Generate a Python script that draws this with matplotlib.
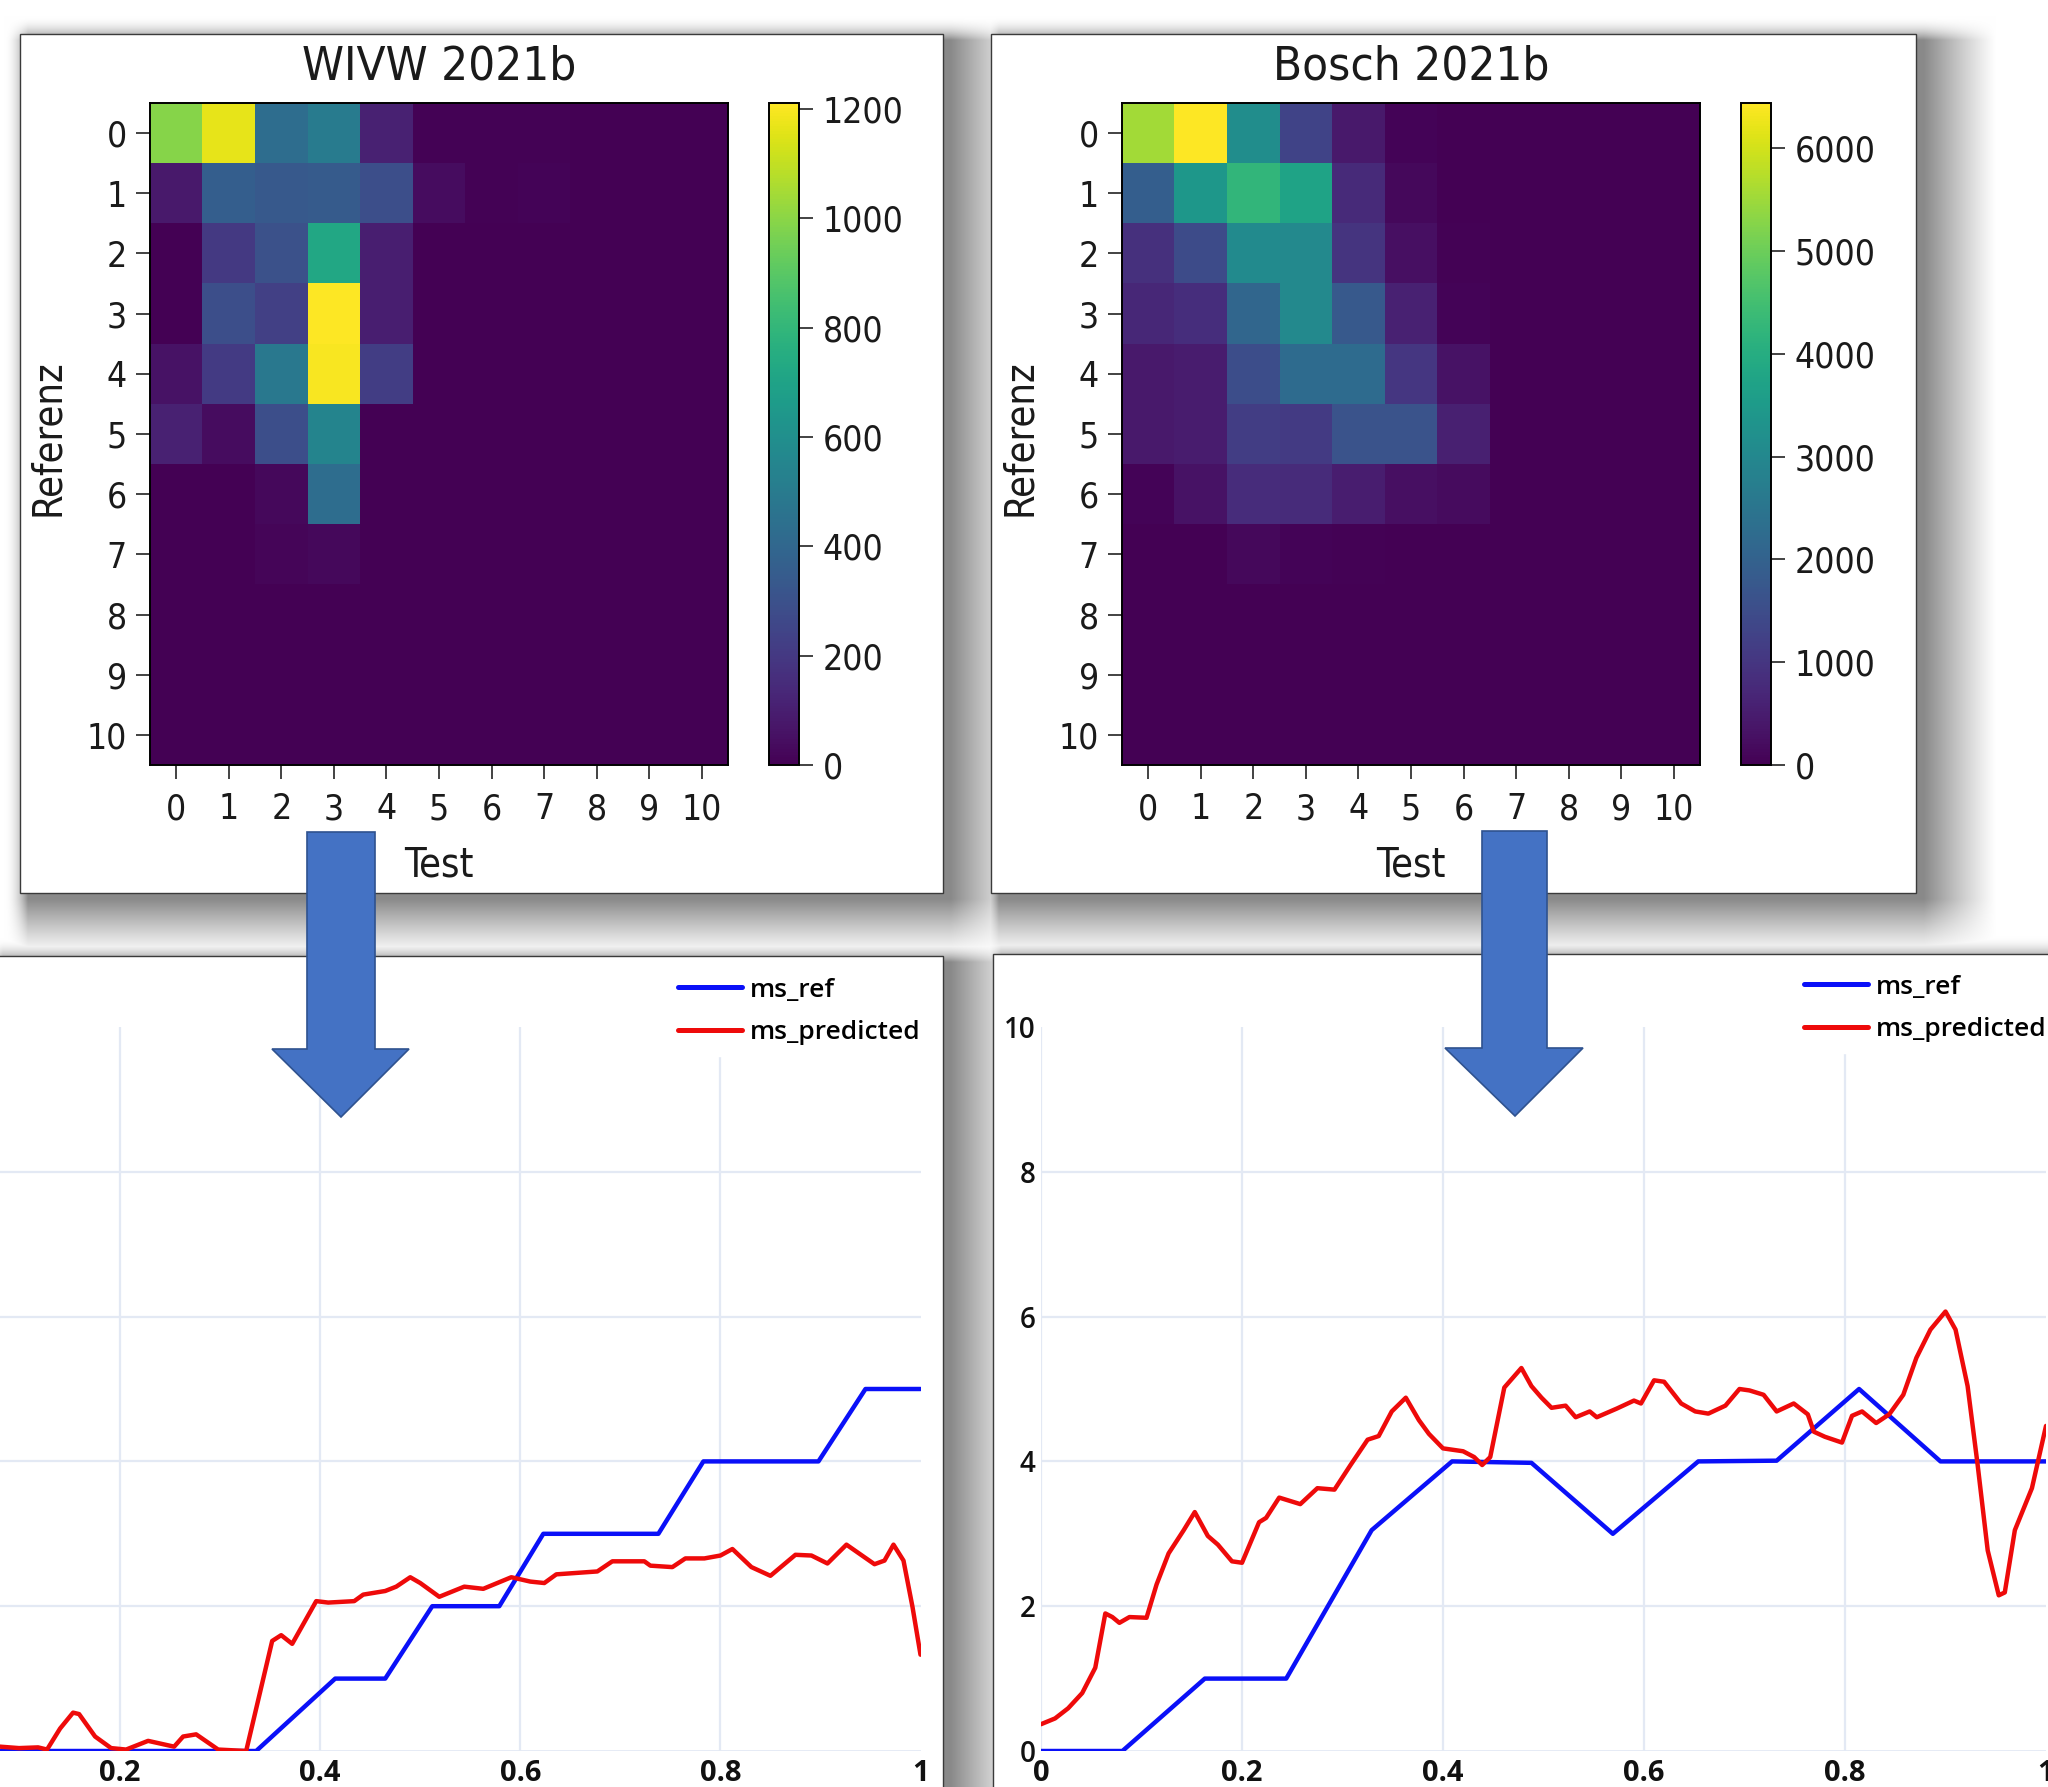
import matplotlib
matplotlib.use('Agg')
import matplotlib.pyplot as plt
from matplotlib.patches import Rectangle, Polygon
import numpy as np

# ---------------- data ----------------
heat_ticks = [0, 1, 2, 3, 4, 5, 6, 7, 8, 9, 10]
heat_ticklabels = ['0', '1', '2', '3', '4', '5', '6', '7', '8', '9', '10']

wivw_title = 'WIVW 2021b'
wivw_matrix = [
    [990, 1165, 435, 505, 110, 5, 5, 5, 3, 3, 3],
    [85, 360, 340, 350, 290, 40, 5, 12, 3, 0, 0],
    [2, 200, 300, 727, 100, 0, 0, 0, 0, 0, 0],
    [4, 290, 230, 1211, 100, 0, 0, 0, 0, 0, 0],
    [60, 205, 485, 1200, 220, 0, 0, 0, 0, 0, 0],
    [110, 40, 290, 545, 0, 0, 0, 0, 0, 0, 0],
    [0, 0, 25, 435, 0, 0, 0, 0, 0, 0, 0],
    [0, 0, 15, 25, 0, 0, 0, 0, 0, 0, 0],
    [0, 0, 0, 0, 0, 0, 0, 0, 0, 0, 0],
    [0, 0, 0, 0, 0, 0, 0, 0, 0, 0, 0],
    [0, 0, 0, 0, 0, 0, 0, 0, 0, 0, 0],
]
wivw_cticks = [0, 200, 400, 600, 800, 1000, 1200]

bosch_title = 'Bosch 2021b'
bosch_matrix = [
    [5540, 6440, 3155, 1290, 450, 60, 20, 10, 5, 5, 5],
    [1930, 3415, 4250, 3735, 775, 130, 20, 10, 5, 0, 0],
    [900, 1480, 3090, 3030, 970, 260, 30, 10, 0, 0, 0],
    [710, 840, 2125, 3030, 1800, 580, 60, 10, 0, 0, 0],
    [450, 500, 1515, 2255, 2255, 1030, 320, 10, 0, 0, 0],
    [450, 480, 1160, 1100, 1640, 1640, 560, 10, 0, 0, 0],
    [60, 320, 820, 800, 520, 260, 200, 5, 0, 0, 0],
    [0, 10, 130, 70, 30, 20, 10, 0, 0, 0, 0],
    [0, 0, 0, 0, 0, 0, 0, 0, 0, 0, 0],
    [0, 0, 0, 0, 0, 0, 0, 0, 0, 0, 0],
    [0, 0, 0, 0, 0, 0, 0, 0, 0, 0, 0],
]
bosch_cticks = [0, 1000, 2000, 3000, 4000, 5000, 6000]

heat_xlabel = 'Test'
heat_ylabel = 'Referenz'

line_xticks = [0, 0.2, 0.4, 0.6, 0.8, 1]
line_xticklabels = ['0', '0.2', '0.4', '0.6', '0.8', '1']
line_yticks = [0, 2, 4, 6, 8, 10]
line_yticklabels = ['0', '2', '4', '6', '8', '10']
series_names = ['ms_ref', 'ms_predicted']

wivw_ref_x = [0, 0.336, 0.415, 0.465, 0.512, 0.579, 0.623, 0.738, 0.783, 0.898, 0.945, 1.0]
wivw_ref_y = [0, 0, 1, 1, 2, 2, 3, 3, 4, 4, 5, 5]

wivw_pred_x = [0.000, 0.040, 0.080, 0.099, 0.118, 0.127, 0.140, 0.153, 0.159, 0.175,
               0.191, 0.206, 0.228, 0.254, 0.263, 0.276, 0.298, 0.326, 0.352, 0.361,
               0.372, 0.396, 0.408, 0.434, 0.443, 0.465, 0.476, 0.490, 0.500, 0.519,
               0.544, 0.563, 0.591, 0.610, 0.624, 0.636, 0.677, 0.692, 0.724, 0.730,
               0.752, 0.765, 0.784, 0.800, 0.812, 0.831, 0.850, 0.875, 0.891, 0.907,
               0.926, 0.954, 0.964, 0.973, 0.983, 0.992, 1.000]
wivw_pred_y = [0.05, 0.08, 0.06, 0.04, 0.05, 0.02, 0.31, 0.53, 0.51, 0.20,
               0.04, 0.02, 0.14, 0.06, 0.20, 0.23, 0.02, 0.00, 1.52, 1.60,
               1.48, 2.07, 2.05, 2.07, 2.16, 2.21, 2.27, 2.40, 2.32, 2.13,
               2.27, 2.24, 2.40, 2.34, 2.32, 2.44, 2.48, 2.62, 2.62, 2.56,
               2.54, 2.66, 2.66, 2.70, 2.79, 2.54, 2.42, 2.71, 2.70, 2.59,
               2.85, 2.58, 2.63, 2.85, 2.63, 1.99, 1.33]

bosch_ref_x = [0, 0.081, 0.163, 0.244, 0.329, 0.409, 0.488, 0.569, 0.654, 0.732, 0.814, 0.895, 1.0]
bosch_ref_y = [0, 0, 1, 1, 3.05, 4, 3.98, 3, 4, 4.01, 5, 4, 4]

bosch_pred_x = [0.000, 0.014, 0.027, 0.041, 0.054, 0.064, 0.071, 0.078, 0.088, 0.105,
                0.115, 0.127, 0.142, 0.153, 0.166, 0.176, 0.190, 0.200, 0.217, 0.224,
                0.237, 0.258, 0.275, 0.292, 0.308, 0.325, 0.336, 0.349, 0.363, 0.376,
                0.386, 0.400, 0.420, 0.431, 0.439, 0.447, 0.461, 0.478, 0.488, 0.498,
                0.508, 0.522, 0.532, 0.546, 0.553, 0.573, 0.590, 0.597, 0.610, 0.620,
                0.637, 0.651, 0.664, 0.681, 0.695, 0.705, 0.719, 0.732, 0.749, 0.763,
                0.769, 0.780, 0.797, 0.807, 0.817, 0.831, 0.844, 0.858, 0.871, 0.885,
                0.900, 0.910, 0.922, 0.932, 0.942, 0.953, 0.959, 0.969, 0.986, 1.000]
bosch_pred_y = [0.37, 0.45, 0.59, 0.80, 1.15, 1.90, 1.85, 1.77, 1.85, 1.84,
                2.30, 2.73, 3.05, 3.30, 2.97, 2.85, 2.62, 2.60, 3.16, 3.22,
                3.50, 3.41, 3.63, 3.61, 3.95, 4.30, 4.35, 4.69, 4.88, 4.57,
                4.38, 4.18, 4.14, 4.06, 3.95, 4.06, 5.02, 5.29, 5.04, 4.88,
                4.74, 4.77, 4.61, 4.69, 4.61, 4.73, 4.84, 4.80, 5.12, 5.10,
                4.80, 4.69, 4.66, 4.77, 5.00, 4.98, 4.92, 4.69, 4.80, 4.65,
                4.41, 4.34, 4.26, 4.63, 4.69, 4.53, 4.65, 4.92, 5.43, 5.82,
                6.07, 5.82, 5.04, 3.95, 2.77, 2.15, 2.19, 3.05, 3.63, 4.49]

# ---------------- layout / style ----------------
W, H = 2048, 1787
DPI = 100
fig = plt.figure(figsize=(W / DPI, H / DPI), dpi=DPI)
fig.patch.set_facecolor('white')


def frect(x0, y0, x1, y1):
    return [x0 / W, 1 - y1 / H, (x1 - x0) / W, (y1 - y0) / H]


HEAT_FONT = dict(family='DejaVu Sans', stretch='condensed')
GRID_C = '#e3e9f4'
BLUE = '#0a10f8'
RED = '#ee0a0a'
ARROW_FC = '#4472c4'
ARROW_EC = '#2f528f'

# background: panels + soft drop shadows
bg = fig.add_axes([0, 0, 1, 1], zorder=0)
bg.axis('off')

panels = [
    (20, 34, 943, 893),
    (991, 34, 1916, 893),
    (-5, 956, 943, 1800),
    (993, 954, 2070, 1800),
]


def ramp1d(n, a0, a1, off, blur_lt, blur_rb):
    c = np.arange(n) + 0.5
    s0, s1 = a0 + off, a1 + off
    f = np.ones(n)
    lo = c < s0
    hi = c > s1
    f[lo] = np.clip(1 - (s0 - c[lo]) / blur_lt, 0, 1) ** 2
    f[hi] = np.clip(1 - (c[hi] - s1) / blur_rb, 0, 1) ** 1.1
    return f


dark = np.zeros((H, W))
for (x0, y0, x1, y1) in panels:
    fx = ramp1d(W, x0, x1, 8, 24, 72)
    fy = ramp1d(H, y0, y1, 6, 24, 56)
    dark = np.maximum(dark, 0.46 * np.outer(fy, fx))
g = 1 - dark
bg.imshow(np.dstack([g, g, g]), extent=(0, W, H, 0), interpolation='bilinear',
          zorder=0, aspect='auto')
bg.set_xlim(0, W)
bg.set_ylim(H, 0)

for (x0, y0, x1, y1) in panels:
    bg.add_patch(Rectangle((x0, y0), x1 - x0, y1 - y0, facecolor='white',
                           edgecolor='#3a3a3a', lw=1.0, zorder=1))


# ---------------- heatmaps ----------------
def heatmap(ax_px, cax_px, matrix, title, cticks):
    ax = fig.add_axes(frect(*ax_px), zorder=2)
    im = ax.imshow(np.array(matrix, dtype=float), cmap='viridis', aspect='auto',
                   interpolation='nearest')
    ax.set_xticks(heat_ticks)
    ax.set_xticklabels(heat_ticklabels, **HEAT_FONT)
    ax.set_yticks(heat_ticks)
    ax.set_yticklabels(heat_ticklabels, **HEAT_FONT)
    ax.tick_params(axis='x', length=10, width=1.2, labelsize=25.5, pad=9.5,
                   color='#222222', labelcolor='#1a1a1a')
    ax.tick_params(axis='y', length=10, width=1.2, labelsize=25.5, pad=6.5,
                   color='#222222', labelcolor='#1a1a1a')
    for s in ax.spines.values():
        s.set_linewidth(1.4)
    ax.set_title(title, fontsize=34, pad=17, color='#1a1a1a', **HEAT_FONT)
    ax.set_xlabel(heat_xlabel, fontsize=28.5, color='#1a1a1a', **HEAT_FONT)
    ax.set_ylabel(heat_ylabel, fontsize=28.5, color='#1a1a1a', **HEAT_FONT)
    ax.xaxis.set_label_coords(0.5, -0.121)
    ax.yaxis.label.set_va('center')
    ax.yaxis.set_label_coords(-0.177, 0.495)

    cax = fig.add_axes(frect(*cax_px), zorder=2)
    cb = fig.colorbar(im, cax=cax, ticks=cticks)
    cb.outline.set_linewidth(1.4)
    cax.tick_params(length=10, width=1.2, labelsize=25.5, pad=7, color='#222222',
                    labelcolor='#1a1a1a')
    for lab in cax.get_yticklabels():
        lab.set_family(HEAT_FONT['family'])
        lab.set_stretch(HEAT_FONT['stretch'])
    return ax


heatmap((150, 103, 728, 765), (769, 103, 799, 765), wivw_matrix, wivw_title, wivw_cticks)
heatmap((1122, 103, 1700, 765), (1741, 103, 1771, 765), bosch_matrix, bosch_title, bosch_cticks)


# ---------------- line charts ----------------
def linechart(x0px, x1px, ref_x, ref_y, pred_x, pred_y, leg_left, leg_top, show_y):
    ax = fig.add_axes(frect(x0px, 1027, x1px, 1751), zorder=1)
    ax.set_facecolor('none')
    ax.set_xlim(0, 1)
    ax.set_ylim(0, 10)
    for s in ax.spines.values():
        s.set_visible(False)
    for t in line_xticks[:-1]:
        ax.axvline(t, color=GRID_C, lw=1.6, zorder=0)
    for t in line_yticks[:-1]:
        ax.axhline(t, color=GRID_C, lw=2.0 if t == 0 else 1.6, zorder=0)
    l1, = ax.plot(ref_x, ref_y, color=BLUE, lw=3.2, solid_joinstyle='round',
                  solid_capstyle='round', zorder=3, label=series_names[0])
    l2, = ax.plot(pred_x, pred_y, color=RED, lw=3.2, solid_joinstyle='round',
                  solid_capstyle='round', zorder=3, label=series_names[1])
    ax.set_xticks(line_xticks)
    xl = list(line_xticklabels) if show_y else [''] + list(line_xticklabels[1:])
    ax.set_xticklabels(xl, fontsize=21, color='#111111', family='Open Sans',
                       weight='bold')
    ax.set_yticks(line_yticks)
    yl = list(line_yticklabels) if show_y else [''] * len(line_yticklabels)
    ax.set_yticklabels(yl, fontsize=20, color='#111111', family='Open Sans',
                       weight='semibold')
    ax.tick_params(axis='both', length=0)
    ax.tick_params(axis='x', pad=6)
    ax.tick_params(axis='y', pad=4)
    leg = ax.legend(handles=[l1, l2], loc='upper left',
                    bbox_to_anchor=(leg_left / W, 1 - leg_top / H),
                    bbox_transform=fig.transFigure, frameon=True, fancybox=False,
                    facecolor='white', edgecolor='white', framealpha=1,
                    borderpad=0.4, borderaxespad=0, handlelength=2.45,
                    handletextpad=0.3, labelspacing=0.66,
                    prop=dict(family='Open Sans', weight='semibold', size=19))
    leg.set_zorder(5)
    for h in leg.legend_handles:
        h.set_linewidth(3.6)
    return ax


linechart(-80, 920.5, wivw_ref_x, wivw_ref_y, wivw_pred_x, wivw_pred_y, 667, 967, False)
linechart(1041, 2046, bosch_ref_x, bosch_ref_y, bosch_pred_x, bosch_pred_y, 1793, 964, True)

# ---------------- arrows (overlay) ----------------
fg = fig.add_axes([0, 0, 1, 1], zorder=10)
fg.set_xlim(0, W)
fg.set_ylim(H, 0)
fg.axis('off')
fg.patch.set_visible(False)

arrow_shapes = [
    [(307, 832), (375, 832), (375, 1049), (409, 1049), (341, 1117), (272, 1049), (307, 1049)],
    [(1482, 831), (1547, 831), (1547, 1048), (1583, 1048), (1515, 1116), (1445, 1048), (1482, 1048)],
]
for shp in arrow_shapes:
    fg.add_patch(Polygon(shp, closed=True, facecolor=ARROW_FC, edgecolor=ARROW_EC, lw=1.2))

fig.savefig('out.png', dpi=DPI, facecolor='white')
